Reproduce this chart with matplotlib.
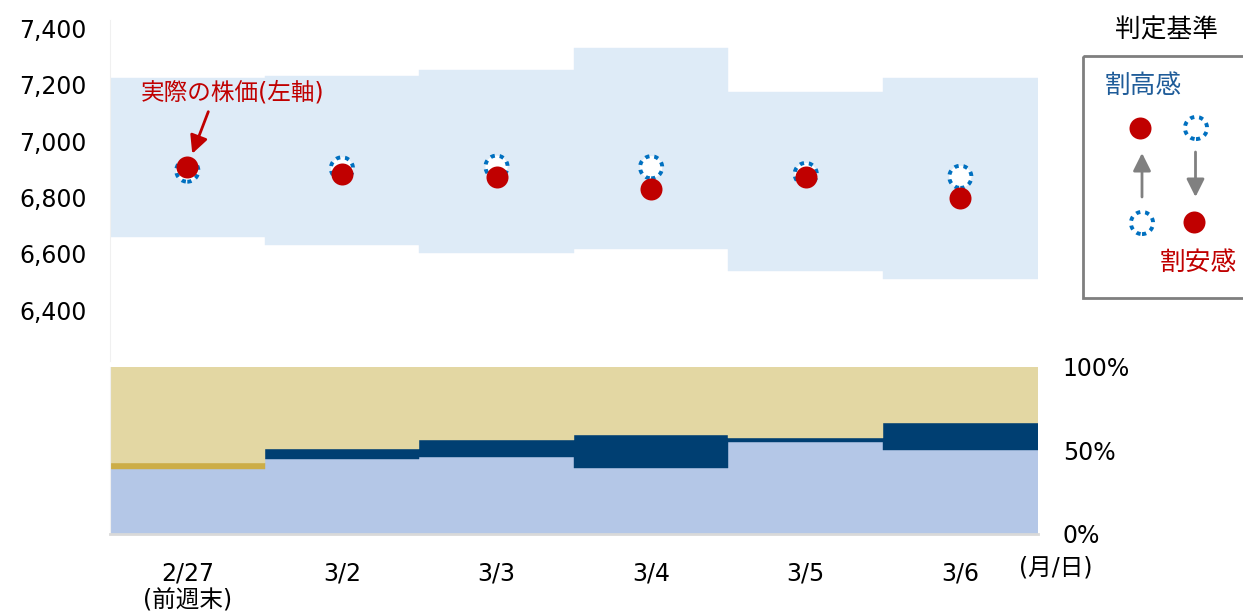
import numpy as np
import matplotlib
matplotlib.use('Agg')
import matplotlib.pyplot as plt
from matplotlib.patches import Rectangle

plt.rcParams['font.family'] = ['DejaVu Sans', 'Noto Sans CJK JP']

# --- data ---
dates = ['2/27\n(前週末)', '3/2', '3/3', '3/4', '3/5', '3/6']
band_high = [7224, 7231, 7252, 7330, 7174, 7224]   # upper edge of fair range
band_low = [6659, 6630, 6604, 6617, 6540, 6510]    # lower edge of fair range
actual_price = [6909, 6882, 6873, 6831, 6873, 6797]
fair_price = [6895, 6903, 6909, 6907, 6883, 6873]

# lower panel shares (%)
share_low = [39.1, 45.2, 46.4, 39.4, 55.2, 50.0]
share_mid = [3.6, 5.9, 9.6, 20.0, 2.0, 16.5]
share_high = [57.3, 48.9, 44.0, 40.6, 42.8, 33.5]

price_ticks = [6400, 6600, 6800, 7000, 7200, 7400]
share_ticks = [0, 50, 100]

RED = '#c00000'
BLUE = '#0070c0'
DOTS = (0, (1.1, 1.25))
FS = 17

fig = plt.figure(figsize=(12.43, 6.14), dpi=100)
x = np.arange(len(dates))

# --- upper panel: price range and prices ---
ax = fig.add_axes([0.0885, 0.4124, 0.7463, 0.5552])
lo = np.array(band_low)
hi = np.array(band_high)
ax.bar(x, hi - lo, bottom=lo, width=1.0, color='#deebf7',
       edgecolor='#deebf7', linewidth=0.3, zorder=1)
ax.scatter(x, fair_price, s=255, facecolor='white', edgecolor=BLUE,
           linewidth=2.8, linestyle=DOTS, zorder=3)
ax.scatter(x, actual_price, s=251, color=RED, linewidth=0, zorder=4)

ax.set_xlim(-0.5, len(dates) - 0.5)
ax.set_ylim(6220, 7430)
ax.set_yticks(price_ticks)
ax.set_yticklabels([f'{v:,}' for v in price_ticks])
ax.tick_params(axis='y', length=0, pad=16.6, labelsize=FS)
ax.set_xticks([])
for s in ['top', 'right', 'bottom']:
    ax.spines[s].set_visible(False)
ax.spines['left'].set_color('#f0f0f0')
ax.patch.set_alpha(0)

ax.annotate('実際の株価(左軸)', xy=(0, actual_price[0]), xytext=(45, 74),
            textcoords='offset pixels', ha='center', va='center',
            color=RED, fontsize=17)
ax.annotate('', xy=(0, actual_price[0]), xytext=(21, 55),
            textcoords='offset pixels',
            arrowprops=dict(arrowstyle='-|>', color=RED, lw=2,
                            mutation_scale=27, shrinkA=0, shrinkB=10),
            zorder=5)

# --- lower panel: stacked shares ---
ax2 = fig.add_axes([0.0885, 0.1303, 0.7463, 0.272])
mid_colors = ['#ccad47'] + ['#003f72'] * (len(dates) - 1)
low = np.array(share_low)
mid = np.array(share_mid)
ax2.bar(x, share_low, width=1.0, color='#b4c7e7', edgecolor='#b4c7e7', linewidth=0.3)
ax2.bar(x, share_mid, bottom=low, width=1.0, color=mid_colors,
        edgecolor=mid_colors, linewidth=0.3)
ax2.bar(x, share_high, bottom=low + mid, width=1.0, color='#e3d7a3',
        edgecolor='#e3d7a3', linewidth=0.3)

ax2.set_xlim(-0.5, len(dates) - 0.5)
ax2.set_ylim(0, 100)
ax2.yaxis.tick_right()
ax2.set_yticks(share_ticks)
ax2.set_yticklabels([f'{v}%' for v in share_ticks])
ax2.tick_params(axis='y', length=0, pad=18, labelsize=FS)
ax2.set_xticks(x)
ax2.set_xticklabels(dates)
ax2.tick_params(axis='x', length=0, pad=19.5, labelsize=FS)
for s in ['top', 'right']:
    ax2.spines[s].set_visible(False)
ax2.spines['bottom'].set_color('#d9d9d9')
ax2.spines['bottom'].set_linewidth(2)
ax2.spines['left'].set_color('#f0f0f0')

fig.text(1056 / 1243, 1 - 567 / 614, '(月/日)', ha='center', va='center', fontsize=FS)

# --- legend box (pixel coordinates) ---
lax = fig.add_axes([0, 0, 1, 1])
lax.set_xlim(0, 1243)
lax.set_ylim(614, 0)
lax.axis('off')
lax.add_patch(Rectangle((1083, 55.7), 220, 242, fill=False, edgecolor='#7f7f7f',
                        lw=2, clip_on=False))
lax.text(1167, 31, '判定基準', ha='center', va='center', fontsize=18.5)
lax.text(1143, 86, '割高感', ha='center', va='center', fontsize=18.5, color='#1f5c99')
lax.text(1198, 263, '割安感', ha='center', va='center', fontsize=18.5, color=RED)
lax.scatter([1140, 1194], [128, 222], s=251, color=RED, linewidth=0, zorder=4)
lax.scatter([1196, 1142], [128, 223], s=255, facecolor='white', edgecolor=BLUE,
            linewidth=2.8, linestyle=DOTS, zorder=3)
arrow = dict(arrowstyle='-|>', color='#808080', lw=2, mutation_scale=27,
             shrinkA=0, shrinkB=0)
lax.annotate('', xy=(1142, 153), xytext=(1142, 197), arrowprops=arrow)
lax.annotate('', xy=(1195.5, 197), xytext=(1195.5, 152), arrowprops=arrow)

fig.savefig('out.png', dpi=100)
